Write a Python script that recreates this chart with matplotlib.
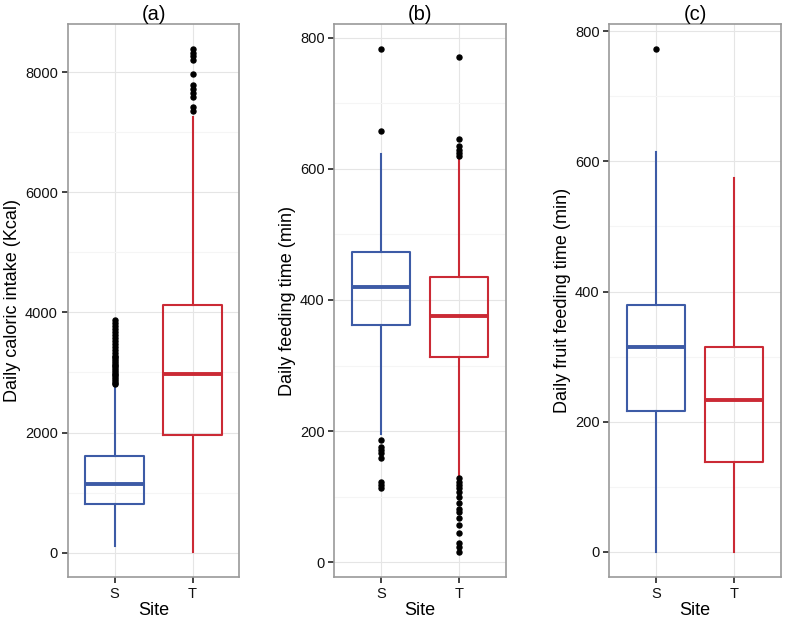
import matplotlib.pyplot as plt
from matplotlib.ticker import MultipleLocator

plt.rcParams['font.family'] = ['Liberation Sans', 'DejaVu Sans']

# Box statistics
sites = ["S", "T"]
colors = ["#3D5BA6", "#CB2A35"]

# (a) Daily caloric intake (Kcal)
cal_low = [105, 12]
cal_q1 = [808, 1963]
cal_med = [1140, 2971]
cal_q3 = [1610, 4116]
cal_high = [2788, 7253]
cal_out_S = [2800, 2830, 2860, 2890, 2920, 2950, 2980, 3010, 3040, 3070, 3100,
             3130, 3160, 3190, 3220, 3250, 3280, 3330, 3380, 3430, 3480, 3530,
             3580, 3630, 3680, 3730, 3780, 3830, 3867]
cal_out_T = [7364, 7419, 7590, 7656, 7729, 7795, 7971, 8210, 8265, 8320, 8382]

# (b) Daily feeding time (min)
feed_low = [196, 131]
feed_q1 = [362, 313]
feed_med = [420, 375]
feed_q3 = [473, 435]
feed_high = [623, 619]
feed_out_S = [113, 118, 123, 159, 166, 171, 176, 186, 657, 782]
feed_out_T = [16, 23, 29, 45, 57, 67, 77, 82, 90, 100, 108, 113, 118, 123, 128,
              620, 624, 629, 635, 646, 771]

# (c) Daily fruit feeding time (min)
fruit_low = [0, 0]
fruit_q1 = [217, 138]
fruit_med = [314, 234]
fruit_q3 = [380, 314]
fruit_high = [615, 575]
fruit_out_S = [772]
fruit_out_T = []

panels = [
    ("(a)", "Daily caloric intake (Kcal)", cal_low, cal_q1, cal_med, cal_q3, cal_high,
     [cal_out_S, cal_out_T], 2000, 0.0854),
    ("(b)", "Daily feeding time (min)", feed_low, feed_q1, feed_med, feed_q3, feed_high,
     [feed_out_S, feed_out_T], 200, 0.4216),
    ("(c)", "Daily fruit feeding time (min)", fruit_low, fruit_q1, fruit_med, fruit_q3,
     fruit_high, [fruit_out_S, fruit_out_T], 200, 0.7683),
]

fig = plt.figure(figsize=(7.93, 6.21), dpi=100)

for title, ylabel, lo, q1, med, q3, hi, outs, step, left in panels:
    ax = fig.add_axes([left, 0.0709, 0.2165, 0.890])
    for i in range(2):
        stats = [{"whislo": lo[i], "q1": q1[i], "med": med[i], "q3": q3[i],
                  "whishi": hi[i], "fliers": outs[i]}]
        c = colors[i]
        ax.bxp(stats, positions=[i + 1], widths=0.75, showcaps=False,
               boxprops=dict(color=c, linewidth=1.5),
               whiskerprops=dict(color=c, linewidth=1.5),
               medianprops=dict(color=c, linewidth=2.8),
               flierprops=dict(marker="o", markerfacecolor="black",
                               markeredgecolor="black", markersize=3.6),
               zorder=3)
    vals = lo + hi + outs[0] + outs[1]
    rng = max(vals) - min(vals)
    ax.set_ylim(min(vals) - 0.05 * rng, max(vals) + 0.05 * rng)
    ax.set_xlim(0.4, 2.6)
    ax.set_xticks([1, 2])
    ax.set_xticklabels(sites)
    ax.yaxis.set_major_locator(MultipleLocator(step))
    ax.yaxis.set_minor_locator(MultipleLocator(step / 2))
    ax.grid(which="major", color="#E5E5E5", linewidth=0.8, zorder=0)
    ax.grid(which="minor", axis="y", color="#F5F5F5", linewidth=0.8, zorder=0)
    ax.set_axisbelow(True)
    ax.tick_params(which="minor", length=0)
    ax.tick_params(which="major", length=4, width=1.2, color="#222222",
                   labelsize=10.5, labelcolor="#111111", pad=3)
    for s in ax.spines.values():
        s.set_color("#9A9A9A")
        s.set_linewidth(1.2)
    ax.set_title(title, fontsize=14.5, pad=2)
    ax.set_xlabel("Site", fontsize=13, labelpad=1)
    ax.set_ylabel(ylabel, fontsize=13, labelpad=3)

fig.savefig("out.png", dpi=100)
